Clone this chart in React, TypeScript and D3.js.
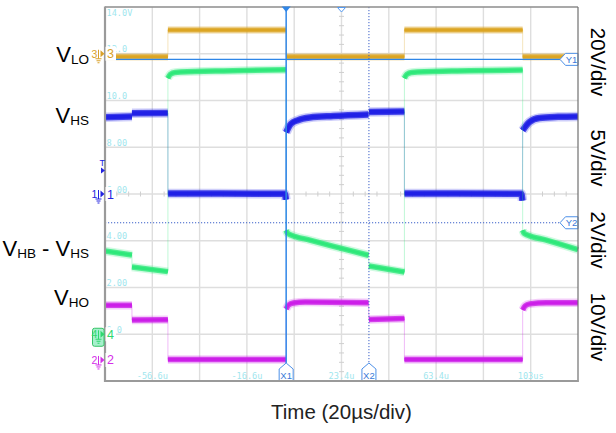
import React from 'react';
import * as d3 from 'd3';

const W = 616;
const H = 433;

// time axis (µs)
const T_START = -76.6;
const T_END = 123.4;
const timeLabels = ['-56.6u', '-16.6u', '23.4u', '63.4u', '103us'];
const timeLabelTimes = [-56.6, -16.6, 23.4, 63.4, 103.4];

// channel-4 grid labels (2 V/div)
const voltLabels = ['14.0V', '12.0', '10.0', '8.00', '6.00', '4.00', '2.00', '0.0'];
const voltLabelDivs = [4, 3, 2, 1, 0, -1, -2, -3];

type Pt = [number, number];

// VLO, channel 3, volts
const vloSegments: Pt[][] = [
  [[-76.6, -1.3], [-50, -1.3]],
  [[-50, 10.2], [0, 10.2]],
  [[0, -1.3], [50, -1.3]],
  [[50, 10.2], [100, 10.2]],
  [[100, -1.3], [123.4, -1.3]],
];

// VHS, channel 1, volts
const vhsSegments: Pt[][] = [
  [[-76.6, 8.2], [-65.2, 8.29]],
  [[-65.2, 8.63], [-50, 8.66]],
  [[-50, 0.05], [-0.6, 0.02], [-0.1, -0.6]],
  [[0, 6.6], [2, 7.5], [5, 7.9], [10, 8.18], [20, 8.34], [34.8, 8.5]],
  [[35, 8.77], [50, 8.82]],
  [[50, 0.05], [99.4, 0.02], [99.9, -0.7]],
  [[100, 6.8], [102.9, 7.7], [107.1, 8.13], [115, 8.25], [123.4, 8.3]],
];

// VHB - VHS, channel 4, volts
const vhbSegments: Pt[][] = [
  [[-76.6, 3.56], [-65.2, 3.39]],
  [[-65.2, 2.88], [-50, 2.68]],
  [[-50, 10.95], [-49, 11.12], [-47, 11.2], [-30, 11.26], [0, 11.32]],
  [[0, 4.45], [0.6, 4.32], [2, 4.25], [10, 4.03], [20, 3.76], [34.8, 3.38]],
  [[35, 2.92], [50, 2.66]],
  [[50, 10.95], [51, 11.12], [53, 11.2], [70, 11.26], [100, 11.3]],
  [[100, 4.45], [100.6, 4.32], [102, 4.25], [110, 4.03], [123.4, 3.62]],
];

// VHO, channel 2, volts
const vhoSegments: Pt[][] = [
  [[-76.6, 11.7], [-65.2, 11.7]],
  [[-65.2, 8.56], [-50, 8.6]],
  [[-50, 0.1], [0, 0.1]],
  [[0, 10.9], [1, 11.76], [3, 12.2], [8, 12.4], [34.8, 12.25]],
  [[35, 8.66], [50, 8.85]],
  [[50, 0.1], [100, 0.1]],
  [[100, 10.7], [101, 11.55], [103, 12.0], [110, 12.25], [123.4, 12.25]],
];

// cursors
const cursorX1 = 0;
const cursorX2 = 35;
const cursorY1Ch3 = -2.4;
const cursorY2Ch4 = 4.77;

const x = d3.scaleLinear().domain([T_START, T_END]).range([105, 578]);
const y = d3.scaleLinear().domain([-4, 4]).range([381, 7]);

interface Channel {
  id: string;
  color: string;
  vPerDiv: number;
  offsetDiv: number;
  width: number;
  segs: Pt[][];
}

const channels: Channel[] = [
  { id: 'ch3', color: '#dca523', vPerDiv: 20, offsetDiv: 3, width: 5, segs: vloSegments },
  { id: 'ch1', color: '#2020e6', vPerDiv: 5, offsetDiv: 0, width: 6.5, segs: vhsSegments },
  { id: 'ch2', color: '#cc1ee8', vPerDiv: 10, offsetDiv: -3.55, width: 5.5, segs: vhoSegments },
  { id: 'ch4', color: '#2ee87a', vPerDiv: 2, offsetDiv: -3, width: 5.5, segs: vhbSegments },
];

const volt = (c: Channel, v: number) => y(c.offsetDiv + v / c.vPerDiv);

const SANS = 'Liberation Sans, Arial, sans-serif';
const MONO = 'DejaVu Sans Mono, monospace';
const CURSOR = '#2f86e8';

function Trace({ c }: { c: Channel }) {
  const line = d3
    .line<Pt>()
    .x((d) => x(d[0]))
    .y((d) => volt(c, d[1]))
    .curve(d3.curveMonotoneX);
  const connectors: string[] = [];
  for (let i = 0; i < c.segs.length - 1; i++) {
    const a = c.segs[i][c.segs[i].length - 1];
    const b = c.segs[i + 1][0];
    connectors.push(`M${x(a[0])},${volt(c, a[1])}L${x(b[0])},${volt(c, b[1])}`);
  }
  return (
    <g>
      {connectors.map((d, i) => (
        <path key={'c' + i} d={d} stroke={c.color} strokeWidth={1} opacity={0.3} fill="none" />
      ))}
      {c.segs.map((s, i) => (
        <g key={i}>
          <path d={line(s) || ''} stroke={c.color} strokeWidth={c.width + 3} opacity={0.22} fill="none" />
          <path d={line(s) || ''} stroke={c.color} strokeWidth={c.width} opacity={0.8} fill="none" />
          <path d={line(s) || ''} stroke={c.color} strokeWidth={c.width - 2.5} fill="none" />
        </g>
      ))}
    </g>
  );
}

function GroundMarker({ yy, label, color, box }: { yy: number; label: string; color: string; box?: boolean }) {
  return (
    <g>
      {box && (
        <rect x={92.5} y={yy - 6} width={11.5} height={18} rx={2} fill="#a6f0cc" stroke="#34c466" strokeWidth={1} />
      )}
      <text x={91.5} y={yy + 4} fontSize={10.5} fill={color} fontFamily={SANS}>
        {label}
      </text>
      <path d={`M100.5,${yy - 3.5}L104.5,${yy}L100.5,${yy + 3.5}Z`} fill={color} />
      <path
        d={`M98.5,${yy - 4}V${yy + 5}M95.5,${yy + 5}H101.5M96.5,${yy + 7}H100.5M97.5,${yy + 9}H99.5`}
        stroke={color}
        strokeWidth={1}
        fill="none"
      />
      <rect x={105.5} y={yy - 7} width={10.5} height={14} fill="#ffffff" />
      <text x={107} y={yy + 4.5} fontSize={12.5} fill={color} fontFamily={SANS}>
        {label}
      </text>
    </g>
  );
}

function CursorTagX({ xx, label }: { xx: number; label: string }) {
  const p = `M${xx},363L${xx + 7},369V381H${xx - 7}V369Z`;
  return (
    <g>
      <path d={p} fill="#ffffff" stroke="#4d90e8" strokeWidth={1} />
      <text x={xx} y={378.5} fontSize={9.5} textAnchor="middle" fill="#3a7ad8" fontFamily={SANS}>
        {label}
      </text>
    </g>
  );
}

function CursorTagY({ yy, label }: { yy: number; label: string }) {
  const p = `M560,${yy}L565.5,${yy - 6}H578V${yy + 6}H565.5Z`;
  return (
    <g>
      <path d={p} fill="#ffffff" stroke="#4d90e8" strokeWidth={1} />
      <text x={571.5} y={yy + 3.5} fontSize={9.5} textAnchor="middle" fill="#3a7ad8" fontFamily={SANS}>
        {label}
      </text>
    </g>
  );
}

function VLabel({ sub, yy }: { sub: string[]; yy: number }) {
  // alternating main / subscript parts
  return (
    <text x={89} y={yy} textAnchor="end" fontFamily={SANS} fill="#000">
      {sub.map((s, i) =>
        i % 2 === 0 ? (
          <tspan key={i} fontSize={22} dy={i === 0 ? 0 : -2}>
            {s}
          </tspan>
        ) : (
          <tspan key={i} fontSize={13.5} dy={2}>
            {s}
          </tspan>
        )
      )}
    </text>
  );
}

export default function App() {
  const gridX = d3.range(1, 10).map((i) => 105 + (473 * i) / 10);
  const gridY = d3.range(-3, 4).map((d) => y(d));
  const ticksX = d3.range(1, 40).filter((i) => i % 4 !== 0).map((i) => 105 + (473 * i) / 40);
  const ticksY = d3.range(1, 40).filter((i) => i % 5 !== 0).map((i) => 7 + (374 * i) / 40);
  const ch3 = channels[0];
  const ch4 = channels[3];
  const yY1 = volt(ch3, cursorY1Ch3);
  const yY2 = volt(ch4, cursorY2Ch4);
  const xX1 = x(cursorX1);
  const xX2 = x(cursorX2);

  return (
    <svg
      width={W}
      height={H}
      viewBox={`0 0 ${W} ${H}`}
      style={{ position: 'absolute', left: 0, top: 0, background: '#fff' }}
    >
      <rect x={0} y={0} width={W} height={H} fill="#fff" />
      {/* grid */}
      {gridX.map((gx, i) => (
        <line key={'gx' + i} x1={gx} x2={gx} y1={7} y2={381} stroke="#dedede" strokeWidth={1.4} />
      ))}
      {gridY.map((gy, i) => (
        <line key={'gy' + i} x1={105} x2={578} y1={gy} y2={gy} stroke="#dedede" strokeWidth={1.4} />
      ))}
      {ticksX.map((tx, i) => (
        <line key={'tx' + i} x1={tx} x2={tx} y1={y(0) - 2.5} y2={y(0) + 2.5} stroke="#cfcfcf" strokeWidth={1} />
      ))}
      {ticksY.map((ty, i) => (
        <line key={'ty' + i} x1={341.5 - 2.5} x2={341.5 + 2.5} y1={ty} y2={ty} stroke="#cfcfcf" strokeWidth={1} />
      ))}
      {/* grid labels */}
      {voltLabels.map((l, i) => {
        const d = voltLabelDivs[i];
        const by = d === 4 ? 15.5 : y(d) - 1.5;
        return (
          <text key={'vl' + i} x={106.5} y={by} fontSize={8.6} fill="#9fe6ee" fontFamily={MONO}>
            {l}
          </text>
        );
      })}
      {timeLabels.map((l, i) => (
        <text
          key={'tl' + i}
          x={x(timeLabelTimes[i])}
          y={379.3}
          fontSize={8.6}
          textAnchor="middle"
          fill="#9fe6ee"
          fontFamily={MONO}
        >
          {l}
        </text>
      ))}
      {/* traces */}
      {channels.map((c) => (
        <Trace key={c.id} c={c} />
      ))}
      {/* cursors */}
      <line x1={105} x2={560} y1={yY1} y2={yY1} stroke={CURSOR} strokeWidth={1.2} />
      <line x1={105} x2={560} y1={yY2} y2={yY2} stroke="#3a5fc8" strokeWidth={1} strokeDasharray="1.2 1.8" />
      <line x1={xX2} x2={xX2} y1={7} y2={363} stroke="#3a5fc8" strokeWidth={1} strokeDasharray="1.2 1.8" />
      <line x1={xX1} x2={xX1} y1={7} y2={363} stroke={CURSOR} strokeWidth={1.5} />
      <CursorTagX xx={xX1} label="X1" />
      <CursorTagX xx={xX2} label="X2" />
      <CursorTagY yy={yY1} label="Y1" />
      <CursorTagY yy={yY2} label="Y2" />
      {/* frame */}
      <line x1={105} x2={578} y1={7} y2={7} stroke="#8c8c8c" strokeWidth={1.3} />
      <line x1={578} x2={578} y1={7} y2={382} stroke="#707070" strokeWidth={1.2} />
      <line x1={105} x2={105} y1={6.5} y2={382} stroke="#9a9a9a" strokeWidth={2.2} />
      <line x1={104} x2={578.5} y1={381} y2={381} stroke="#9a9a9a" strokeWidth={2.2} />
      {/* top markers */}
      <path d={`M${xX1 - 4.5},6.5L${xX1 + 4.5},6.5L${xX1},12Z`} fill={CURSOR} />
      <path d={`M337.5,7.5L345.5,7.5L341.5,12Z`} fill="#fff" stroke="#5599ee" strokeWidth={1} />
      {/* channel markers */}
      <GroundMarker yy={y(3)} label="3" color="#d9a12a" />
      <GroundMarker yy={y(0)} label="1" color="#2222e0" />
      <GroundMarker yy={y(-3)} label="4" color="#2ed86e" box />
      <GroundMarker yy={y(-3.55)} label="2" color="#d42ee8" />
      <text x={99.5} y={166} fontSize={9} fill="#2222e0" fontFamily={SANS}>
        T
      </text>
      <path d="M101,167.5L105,170.5L101,173.5Z" fill="#2222e0" />
      {/* left labels */}
      <VLabel sub={['V', 'LO']} yy={62} />
      <VLabel sub={['V', 'HS']} yy={123} />
      <VLabel sub={['V', 'HB', ' - V', 'HS']} yy={256} />
      <VLabel sub={['V', 'HO']} yy={305} />
      {/* right labels */}
      {[
        ['20V/div', 62],
        ['5V/div', 158],
        ['2V/div', 240],
        ['10V/div', 327],
      ].map(([t, cy], i) => (
        <text
          key={'r' + i}
          transform={`translate(598.5,${cy}) rotate(90)`}
          textAnchor="middle"
          dominantBaseline="central"
          fontSize={20.5}
          fontFamily={SANS}
          fill="#000"
        >
          {t}
        </text>
      ))}
      <text x={341.5} y={419} textAnchor="middle" fontSize={20.5} fontFamily={SANS} fill="#222">
        Time (20µs/div)
      </text>
    </svg>
  );
}
